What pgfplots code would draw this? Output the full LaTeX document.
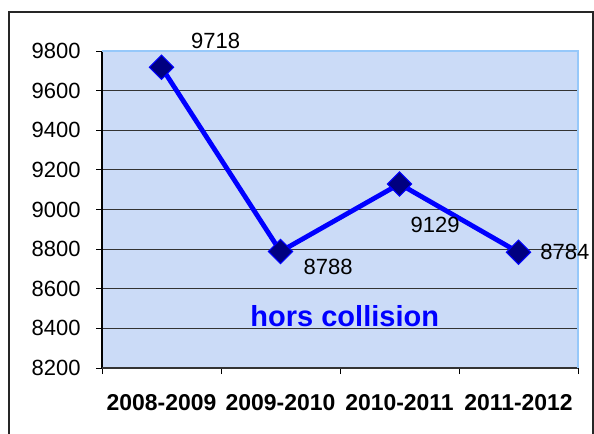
\documentclass[border=0pt]{standalone}
\usepackage{fontspec}
\setmainfont{Liberation Sans}
\usepackage{pgfplots}
\pgfplotsset{compat=1.18}

\definecolor{bgblue}{RGB}{203,219,247}
\definecolor{edgeblue}{RGB}{150,200,250}
\definecolor{marknavy}{RGB}{0,0,128}

\begin{document}
\begin{tikzpicture}
\begin{axis}[
  scale only axis,
  width=357pt, height=237.75pt,
  xmin=-0.5, xmax=3.5,
  ymin=8200, ymax=9800,
  xtick={0,1,2,3},
  xticklabels={2008-2009,2009-2010,2010-2011,2011-2012},
  minor xtick={-0.5,0.5,1.5,2.5,3.5},
  ytick={8200,8400,...,9800},
  xtick pos=bottom, ytick pos=left,
  tick align=outside,
  major tick length=4.5pt, minor tick length=4.5pt,
  major x tick style={draw=none},
  every tick/.style={black, line width=0.75pt},
  axis line style={draw=none},
  axis background/.style={fill=bgblue},
  ymajorgrids,
  grid style={black!80, line width=0.7pt},
  /pgf/number format/1000 sep={},
  /pgf/number format/assume math mode=true,
  ticklabel style={font=\fontsize{16.5}{19}\selectfont},
  yticklabel style={xshift=-8pt},
  xticklabel style={font=\bfseries\fontsize{17.2}{20}\selectfont, yshift=-11.5pt},
  clip=false,
]
% hors collision
\addplot[blue, line width=3.6pt,
  mark=square*, mark size=6.4pt,
  mark options={rotate=45, fill=marknavy, draw=blue, line width=0.8pt}]
  coordinates {(0,9718) (1,8788) (2,9129) (3,8784)};

\draw[black, line width=0.8pt] (rel axis cs:0,0) -- (rel axis cs:0,1);
\draw[black!80, line width=0.8pt] (rel axis cs:0,0) -- (rel axis cs:1,0);
\draw[edgeblue, line width=1.2pt] (rel axis cs:0,1) -- (rel axis cs:1,1) -- (rel axis cs:1,0);

\begin{scope}[every node/.style={font=\fontsize{16.5}{19}\selectfont, inner sep=0pt}]
\node at (axis cs:0.455,9852) {9718};
\node at (axis cs:1.40,8709) {8788};
\node at (axis cs:2.30,8921) {9129};
\node at (axis cs:3.39,8788) {8784};
\end{scope}
\node[font=\bfseries\fontsize{21.75}{24}\selectfont, text=blue, inner sep=0pt]
  at (axis cs:1.54,8462) {hors collision};

\draw[black!85, line width=1.5pt] (rel axis cs:-0.1954,-0.25) rectangle (rel axis cs:1.0315,1.123);
\coordinate (bbsw) at (rel axis cs:-0.2143,-0.208);
\coordinate (bbne) at (rel axis cs:1.0336,1.1609);
\end{axis}
\pgfresetboundingbox
\useasboundingbox (bbsw) rectangle (bbne);
\end{tikzpicture}
\end{document}
